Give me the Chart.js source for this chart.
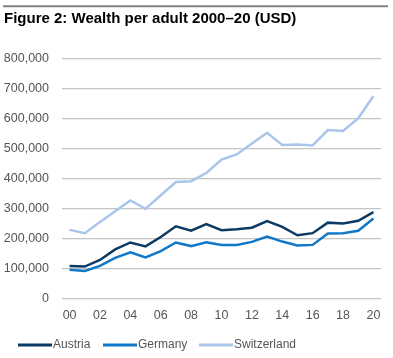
<!DOCTYPE html>
<html>
<head>
<meta charset="utf-8">
<script src="https://cdn.jsdelivr.net/npm/chart.js@4/dist/chart.umd.min.js"></script>
<style>
  html, body { margin: 0; padding: 0; background: #fff; }
  #wrap { width: 393px; height: 358px; position: relative; }
</style>
</head>
<body>
<div id="wrap"><canvas id="c" width="393" height="358"></canvas></div>
<script>
const titleText = "Figure 2: Wealth per adult 2000\u201320 (USD)";
const years = ['00','01','02','03','04','05','06','07','08','09','10','11','12','13','14','15','16','17','18','19','20'];
const austria = [110000,108000,130000,165000,188000,175000,206000,242000,227000,249000,229000,232000,237000,259000,240000,212000,219000,254000,251000,260000,289000];
const germany = [97000,93000,110000,137000,155000,138000,159000,188000,176000,189000,180000,180000,190000,208000,191000,178000,180000,218000,219000,227000,268000];
const switzerland = [230000,219000,256000,292000,328000,300000,345000,389000,392000,419000,464000,481000,517000,553000,512000,514000,511000,562000,559000,601000,675000];
const yMin = 0, yMax = 800000, yStep = 100000;

const FONT = "'Liberation Sans', Arial, Helvetica, sans-serif";

const decor = {
  id: 'decor',
  afterDraw(chart) {
    const ctx = chart.ctx;
    ctx.save();
    // top rule
    ctx.strokeStyle = '#808080';
    ctx.lineWidth = 2;
    ctx.beginPath();
    ctx.moveTo(3, 6.3);
    ctx.lineTo(388, 6.3);
    ctx.stroke();
    // title
    ctx.fillStyle = '#000';
    ctx.font = 'bold 15px ' + FONT;
    ctx.textBaseline = 'alphabetic';
    ctx.textAlign = 'left';
    ctx.fillText(titleText, 4, 23);
    // legend
    const starts = [18, 103, 199];
    const yc = 345;
    ctx.font = '12px ' + FONT;
    ctx.textBaseline = 'middle';
    chart.data.datasets.forEach((ds, i) => {
      const x0 = starts[i];
      ctx.strokeStyle = ds.borderColor;
      ctx.lineWidth = 3;
      ctx.beginPath();
      ctx.moveTo(x0, yc);
      ctx.lineTo(x0 + 34, yc);
      ctx.stroke();
      ctx.fillStyle = '#555';
      ctx.fillText(ds.label, x0 + 35, yc);
    });
    ctx.restore();
  }
};

new Chart(document.getElementById('c'), {
  type: 'line',
  data: {
    labels: years,
    datasets: [
      { label: 'Austria', data: austria, borderColor: '#0b3a63', borderWidth: 2.5, pointRadius: 0, tension: 0, fill: false },
      { label: 'Germany', data: germany, borderColor: '#0f78c8', borderWidth: 2.5, pointRadius: 0, tension: 0, fill: false },
      { label: 'Switzerland', data: switzerland, borderColor: '#a9c6ea', borderWidth: 2.5, pointRadius: 0, tension: 0, fill: false }
    ]
  },
  options: {
    responsive: false,
    animation: false,
    devicePixelRatio: 1,
    layout: { padding: { top: 58.5, right: 12, bottom: 26, left: 0 } },
    plugins: { legend: { display: false }, title: { display: false }, tooltip: { enabled: false } },
    scales: {
      x: {
        offset: true,
        grid: { display: false, drawTicks: false },
        border: { display: false },
        ticks: {
          autoSkip: false, maxRotation: 0, padding: 9,
          color: '#555', font: { family: FONT, size: 12.5 },
          callback: function(v, i) { return i % 2 === 0 ? years[i] : ''; }
        }
      },
      y: {
        min: yMin, max: yMax,
        afterFit(scale) { scale.width = 62; },
        grid: { color: '#c4c4c4', lineWidth: 1.2, drawTicks: false },
        border: { display: false },
        ticks: {
          stepSize: yStep, padding: 13,
          color: '#555', font: { family: FONT, size: 12.5 },
          callback: v => v.toLocaleString('en-US')
        }
      }
    }
  },
  plugins: [decor]
});
</script>
</body>
</html>
